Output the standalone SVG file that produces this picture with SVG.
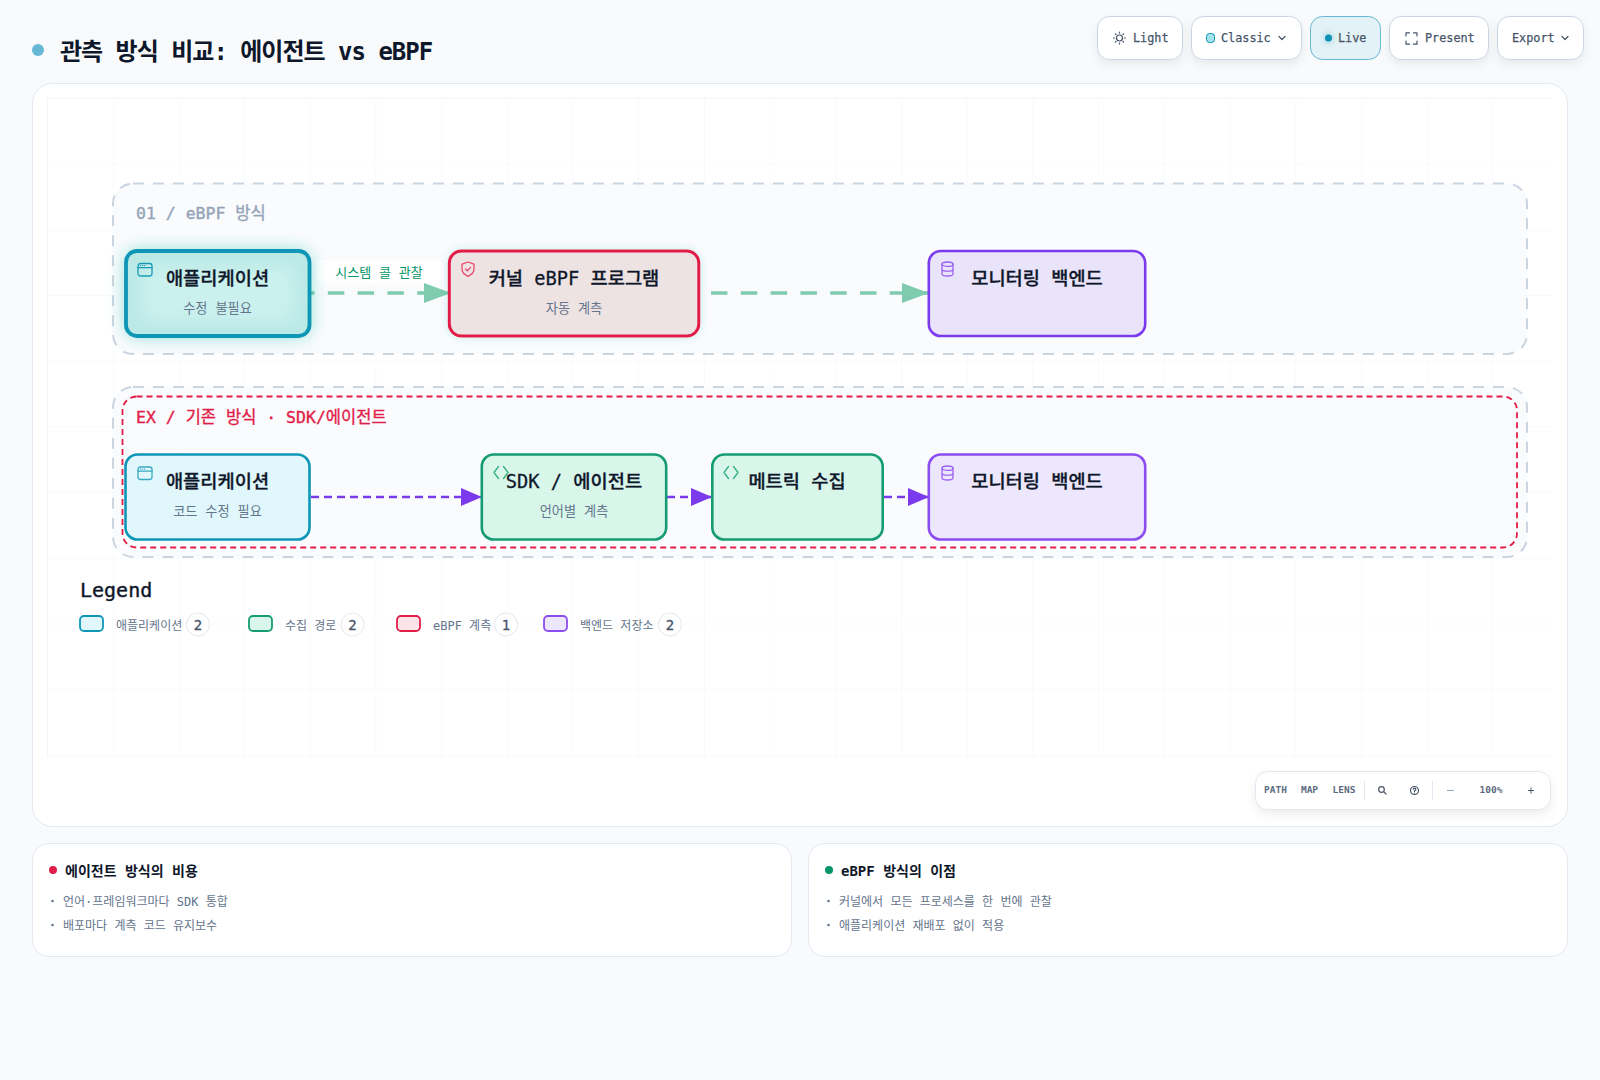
<svg xmlns="http://www.w3.org/2000/svg" width="1600" height="1080" viewBox="0 0 1600 1080">
<style>
text{font-family:"DejaVu Sans Mono","Noto Sans CJK KR",monospace;white-space:pre}
.btn{fill:#fff;stroke:#cbd5e1;stroke-width:1;filter:url(#sh)}
.bt{font-size:11.8px;fill:#475569;stroke:#475569;stroke-width:.25}
.title{font-size:18.7px;font-weight:500;fill:#0f172a;stroke:#0f172a;stroke-width:.3;text-anchor:middle}
.sub{font-size:13.2px;fill:#64748b;text-anchor:middle}
.card{fill:#fff;stroke:#e2e8f0;stroke-width:1}
.h{font-size:14px;font-weight:700;fill:#0f172a}
.li{font-size:12px;fill:#64748b}
.bul{fill:#64748b}
.grp{fill:#f8fafc;fill-opacity:.7;stroke:#cbd5e1;stroke-width:2;stroke-dasharray:11 9}
.leg{font-size:12px;fill:#64748b}
.bdg{fill:#fff;stroke:#e2e8f0}
.bn{font-size:14px;fill:#475569;stroke:#475569;stroke-width:.3;text-anchor:middle}
.tb{font-size:9.5px;font-weight:700;fill:#5b6b80;text-anchor:middle}
.ic{fill:none;stroke-width:1.3;stroke-linecap:round;stroke-linejoin:round}
.g1{fill:none;stroke:#7fcbb0;stroke-width:3.3;stroke-dasharray:16.5 13.3}
.g2{fill:none;stroke:#7c3aed;stroke-width:2.5;stroke-dasharray:8 5}
.ti{fill:none;stroke:#475569;stroke-width:1.2;stroke-linecap:round;stroke-linejoin:round}
</style>
<defs>
<pattern id="grid" x="47" y="98" width="65.7" height="65.7" patternUnits="userSpaceOnUse"><path d="M65.7 0H0V65.7" fill="none" stroke="#f1f5f9" stroke-width="1"/></pattern>
<filter id="sh" x="-20%" y="-30%" width="140%" height="180%"><feDropShadow dx="0" dy="4" stdDeviation="5" flood-color="#0f172a" flood-opacity=".07"/></filter>
<filter id="glow" x="-30%" y="-50%" width="160%" height="200%"><feDropShadow dx="0" dy="0" stdDeviation="9" flood-color="#14b8a6" flood-opacity=".48"/></filter>
<filter id="glow2" x="-20%" y="-40%" width="140%" height="180%"><feDropShadow dx="0" dy="0" stdDeviation="4" flood-color="#14b8a6" flood-opacity=".22"/></filter>
<filter id="glow3" x="-150%" y="-150%" width="400%" height="400%"><feDropShadow dx="0" dy="0" stdDeviation="3" flood-color="#0891b2" flood-opacity=".5"/></filter>
<filter id="bl"><feGaussianBlur stdDeviation="8"/></filter>
<marker id="ag" markerUnits="userSpaceOnUse" markerWidth="28" markerHeight="20" refX="27" refY="10" orient="auto"><path d="M0 0L27 10L0 20Z" fill="#7fcbb0"/></marker>
<marker id="ap" markerUnits="userSpaceOnUse" markerWidth="21" markerHeight="18" refX="21" refY="9" orient="auto"><path d="M0 0L21 9L0 18Z" fill="#7c3aed"/></marker>
<g id="i-app"><rect x="0" y="0" width="14" height="12.5" rx="2.5"/><path d="M0 4.200H14M2.500 2.100H2.600M4.500 2.100H4.600M6.500 2.100H6.600"/></g>
<g id="i-sh"><path d="M7 0L13 2.200V7C13 10.800 10 13 7 14.300C4 13 1 10.800 1 7V2.200Z"/><path d="M4.500 7L6.400 8.800L9.600 5.400"/></g>
<g id="i-db"><ellipse cx="6.500" cy="2.200" rx="5.500" ry="2.200"/><path d="M1 2.200V11.800C1 13 3.500 14 6.500 14S12 13 12 11.800V2.200M1 7C1 8.200 3.500 9.200 6.500 9.200S12 8.200 12 7"/></g>
<g id="i-code"><path d="M4.500 0L0 6L4.500 12M9.500 0L14 6L9.500 12"/></g>
<clipPath id="c1"><rect x="126" y="251" width="183.500" height="85" rx="11"/></clipPath>
</defs>
<rect width="1600" height="1080" fill="#f8fafc"/>

<g id="header">
<circle cx="38" cy="50" r="6" fill="#67b8d4"/>
<text x="60" y="60" font-size="24" font-weight="700" fill="#0f172a" letter-spacing="-1">관측 방식 비교: 에이전트 vs eBPF</text>
</g>

<g id="toolbar">
<rect class="btn" x="1097.500" y="16.500" width="85" height="43" rx="12"/>
<g class="ti"><circle cx="1119.500" cy="38" r="3"/><path d="M1119.500 32V33M1119.500 43V44M1113.500 38H1114.500M1124.500 38H1125.500M1115.300 33.800L1116 34.500M1123 41.500L1123.700 42.200M1115.300 42.200L1116 41.500M1123 34.500L1123.700 33.800"/></g>
<text class="bt" x="1133" y="42">Light</text>
<rect class="btn" x="1191.500" y="16.500" width="110" height="43" rx="12"/>
<rect x="1206.500" y="33.500" width="8" height="9" rx="3" fill="#a5e3ec" stroke="#0891b2"/>
<text class="bt" x="1221" y="42">Classic</text>
<path class="ti" d="M1279 36.500L1282 39.500L1285 36.500"/>
<rect x="1310.500" y="16.500" width="70" height="43" rx="12" fill="#e3f2f6" stroke="#67b8d4"/>
<circle cx="1328.500" cy="38" r="3.500" fill="#0891b2" filter="url(#glow3)"/>
<text class="bt" x="1338" y="42">Live</text>
<rect class="btn" x="1389.500" y="16.500" width="99" height="43" rx="12"/>
<path class="ti" d="M1406 36V32.800H1409.500M1413.500 32.800H1417V36M1417 41V44.200H1413.500M1409.500 44.200H1406V41"/>
<text class="bt" x="1425" y="42">Present</text>
<rect class="btn" x="1497.500" y="16.500" width="86" height="43" rx="12"/>
<text class="bt" x="1512" y="42">Export</text>
<path class="ti" d="M1562 36.500L1565 39.500L1568 36.500"/>
</g>

<g id="canvas">
<rect x="32.500" y="83.500" width="1535" height="743" rx="20" fill="#fff" stroke="#e2e8f0"/>
<rect x="47" y="98" width="1505" height="660" fill="url(#grid)"/>
<path d="M47.500 98V758M47 98H1552" stroke="#f1f5f9" fill="none"/>
</g>

<g id="group-ebpf">
<rect class="grp" x="113" y="183.500" width="1414" height="170.500" rx="20"/>
<text x="136" y="219" font-size="16.500" fill="#94a3b8" stroke="#94a3b8" stroke-width=".35">01 / eBPF 방식</text>
</g>
<g id="group-legacy">
<rect class="grp" x="113" y="387" width="1414" height="170" rx="20"/>
<rect x="122.500" y="396.500" width="1394.500" height="151" rx="14" fill="none" stroke="#e11d48" stroke-width="1.800" stroke-dasharray="6 4"/>
<text x="136" y="423" font-size="16.500" fill="#e11d48" stroke="#e11d48" stroke-width=".35">EX / 기존 방식 · SDK/에이전트</text>
</g>

<g id="connectors">
<path class="g1" d="M298 293H451" marker-end="url(#ag)"/>
<path class="g1" d="M711 293H929" marker-end="url(#ag)"/>
<path class="g2" d="M311 497H482" marker-end="url(#ap)"/>
<path class="g2" d="M667 497H712" marker-end="url(#ap)"/>
<path class="g2" d="M884 497H929" marker-end="url(#ap)"/>
<g id="edge-label"><rect x="316" y="260" width="127" height="23" rx="6" fill="#fff"/>
<text x="379" y="277" font-size="13" fill="#059669" text-anchor="middle">시스템 콜 관찰</text></g>
</g>

<g id="n-app1">
<rect x="126" y="251" width="183.500" height="85" rx="11" fill="#bbe9e6" filter="url(#glow)"/>
<g clip-path="url(#c1)"><rect x="142" y="266" width="152" height="55" rx="10" fill="#cbf1ee" filter="url(#bl)"/></g>
<rect x="126" y="251" width="183.500" height="85" rx="11" fill="none" stroke="#0e96b6" stroke-width="3.800"/>
<use href="#i-app" x="138" y="263.500" class="ic" stroke="#1a9bb5"/>
<text class="title" x="217.500" y="285">애플리케이션</text>
<text class="sub" x="217.500" y="313">수정 불필요</text>
</g>
<g id="n-kernel">
<rect x="449.300" y="251" width="249.500" height="85" rx="12" fill="#eee3e3" stroke="#e11d48" stroke-width="3" filter="url(#glow2)"/>
<use href="#i-sh" x="461" y="262" class="ic" stroke="#e8476a"/>
<text class="title" x="574" y="285">커널 eBPF 프로그램</text>
<text class="sub" x="574" y="313">자동 계측</text>
</g>
<g id="n-backend1">
<rect x="928.800" y="251" width="216.400" height="85" rx="12" fill="#e9e4fa" stroke="#7c3aed" stroke-width="2.600"/>
<use href="#i-db" x="941" y="262" class="ic" stroke="#9a62f2"/>
<text class="title" x="1037" y="285">모니터링 백엔드</text>
</g>
<g id="n-app2">
<rect x="125.500" y="454.500" width="184" height="85" rx="12" fill="#e0f8fc" stroke="#0e96b6" stroke-width="2.600"/>
<use href="#i-app" x="138" y="467" class="ic" stroke="#3aa8c2"/>
<text class="title" x="217.500" y="488">애플리케이션</text>
<text class="sub" x="217.500" y="516">코드 수정 필요</text>
</g>
<g id="n-sdk">
<rect x="481.800" y="454.500" width="184.400" height="85" rx="12" fill="#d9f6ea" stroke="#169c72" stroke-width="2.600"/>
<use href="#i-code" x="494" y="466.500" class="ic" stroke="#34ae86" stroke-width="1.100"/>
<text class="title" x="574" y="488">SDK / 에이전트</text>
<text class="sub" x="574" y="516">언어별 계측</text>
</g>
<g id="n-metric">
<rect x="712.300" y="454.500" width="170.400" height="85" rx="12" fill="#d9f6ea" stroke="#169c72" stroke-width="2.600"/>
<use href="#i-code" x="724" y="466.500" class="ic" stroke="#34ae86" stroke-width="1.100"/>
<text class="title" x="797" y="488">메트릭 수집</text>
</g>
<g id="n-backend2">
<rect x="928.800" y="454.500" width="216.400" height="85" rx="12" fill="#ede7fd" stroke="#8b4cf0" stroke-width="2.600"/>
<use href="#i-db" x="941" y="466" class="ic" stroke="#9a62f2"/>
<text class="title" x="1037" y="488">모니터링 백엔드</text>
</g>

<g id="legend">
<text x="80" y="597" font-size="20" fill="#0f172a" stroke="#0f172a" stroke-width=".4">Legend</text>
<rect x="80" y="616" width="23" height="15" rx="4" fill="#e0f8fc" stroke="#0e96b6" stroke-width="1.800"/>
<text class="leg" x="116" y="629.500">애플리케이션</text>
<circle class="bdg" cx="198" cy="624.500" r="11.500"/><text class="bn" x="198" y="629.500">2</text>
<rect x="249" y="616" width="23" height="15" rx="4" fill="#d9f6ea" stroke="#169c72" stroke-width="1.800"/>
<text class="leg" x="285" y="629.500">수집 경로</text>
<circle class="bdg" cx="352.500" cy="624.500" r="11.500"/><text class="bn" x="352.500" y="629.500">2</text>
<rect x="397" y="616" width="23" height="15" rx="4" fill="#fde4e9" stroke="#e11d48" stroke-width="1.800"/>
<text class="leg" x="433" y="629.500">eBPF 계측</text>
<circle class="bdg" cx="506" cy="624.500" r="11.500"/><text class="bn" x="506" y="629.500">1</text>
<rect x="544" y="616" width="23" height="15" rx="4" fill="#ede7fd" stroke="#8b4cf0" stroke-width="1.800"/>
<text class="leg" x="580" y="629.500">백엔드 저장소</text>
<circle class="bdg" cx="670" cy="624.500" r="11.500"/><text class="bn" x="670" y="629.500">2</text>
</g>

<g id="view-controls">
<rect x="1255.500" y="771.500" width="295" height="38" rx="12" fill="#fff" stroke="#e2e8f0" filter="url(#sh)"/>
<text class="tb" x="1275.500" y="793">PATH</text>
<text class="tb" x="1309.500" y="793">MAP</text>
<text class="tb" x="1344" y="793">LENS</text>
<path d="M1364.500 781V800M1432.500 781V800" stroke="#e2e8f0"/>
<g class="ti" stroke-width="1"><circle cx="1381.500" cy="789.500" r="2.800"/><path d="M1383.700 791.700L1386 794"/></g>
<g class="ti" stroke-width="1"><circle cx="1414.500" cy="790.500" r="4"/><path d="M1413.200 789.200C1413.400 787.600 1416 787.800 1415.800 789.400C1415.700 790.300 1414.500 790.400 1414.500 791.400M1414.500 793V793.100"/></g>
<path d="M1447 790.500H1454" stroke="#94a3b8"/>
<text class="tb" x="1491" y="793">100%</text>
<path d="M1528 790.500H1534M1531 787.500V793.500" stroke="#475569"/>
</g>

<g id="card-cost">
<rect class="card" x="32.500" y="843.500" width="759" height="113" rx="16"/>
<circle cx="53" cy="870" r="4" fill="#e11d48"/>
<text class="h" x="65" y="876">에이전트 방식의 비용</text>
<circle class="bul" cx="52.500" cy="901" r="1.300"/><text class="li" x="63" y="905.500">언어·프레임워크마다 SDK 통합</text>
<circle class="bul" cx="52.500" cy="925" r="1.300"/><text class="li" x="63" y="929.500">배포마다 계측 코드 유지보수</text>
</g>
<g id="card-benefit">
<rect class="card" x="808.500" y="843.500" width="759" height="113" rx="16"/>
<circle cx="829" cy="870" r="4" fill="#059669"/>
<text class="h" x="841" y="876">eBPF 방식의 이점</text>
<circle class="bul" cx="828.500" cy="901" r="1.300"/><text class="li" x="839" y="905.500">커널에서 모든 프로세스를 한 번에 관찰</text>
<circle class="bul" cx="828.500" cy="925" r="1.300"/><text class="li" x="839" y="929.500">애플리케이션 재배포 없이 적용</text>
</g>
</svg>
